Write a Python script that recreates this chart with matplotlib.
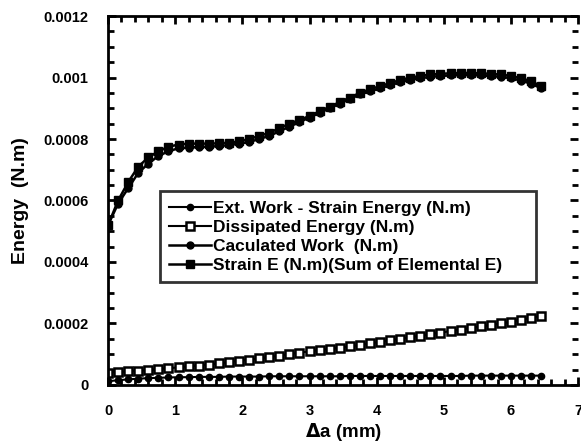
import matplotlib
matplotlib.use("Agg")
import matplotlib.pyplot as plt
from matplotlib.ticker import MultipleLocator

plt.rcParams['font.family'] = ['Liberation Sans', 'DejaVu Sans']
plt.rcParams['font.weight'] = 'bold'

# crack extension (mm)
delta_a = [0, 0.15, 0.3, 0.45, 0.6, 0.75, 0.9, 1.05, 1.2, 1.35, 1.5, 1.65, 1.8, 1.95,
           2.1, 2.25, 2.4, 2.55, 2.7, 2.85, 3.0, 3.15, 3.3, 3.45, 3.6, 3.75, 3.9, 4.05,
           4.2, 4.35, 4.5, 4.65, 4.8, 4.95, 5.1, 5.25, 5.4, 5.55, 5.7, 5.85, 6.0, 6.15,
           6.3, 6.45]

# energies in units of 1e-4 N.m
ext_minus_strain = [0.12, 0.15, 0.18, 0.2, 0.22, 0.23, 0.24, 0.25, 0.25, 0.26, 0.26, 0.26,
                    0.27, 0.27, 0.27, 0.27, 0.28, 0.28, 0.28, 0.28, 0.28, 0.28, 0.28, 0.28,
                    0.29, 0.29, 0.29, 0.29, 0.29, 0.29, 0.29, 0.29, 0.29, 0.29, 0.29, 0.29,
                    0.3, 0.3, 0.3, 0.3, 0.3, 0.3, 0.3, 0.3]
dissipated = [0.40, 0.42, 0.44, 0.46, 0.48, 0.51, 0.54, 0.57, 0.60, 0.63, 0.66, 0.70, 0.74,
              0.78, 0.82, 0.86, 0.90, 0.95, 1.0, 1.05, 1.09, 1.13, 1.17, 1.21, 1.25, 1.30,
              1.35, 1.40, 1.45, 1.50, 1.55, 1.60, 1.65, 1.70, 1.75, 1.80, 1.85, 1.90, 1.95,
              2.0, 2.05, 2.12, 2.18, 2.25]
calc_work = [5.2, 5.9, 6.4, 6.9, 7.2, 7.45, 7.6, 7.7, 7.72, 7.74, 7.75, 7.77, 7.8, 7.85,
             7.9, 8.0, 8.1, 8.25, 8.4, 8.55, 8.7, 8.85, 9.0, 9.15, 9.3, 9.45, 9.55, 9.65,
             9.75, 9.85, 9.92, 9.98, 10.02, 10.05, 10.07, 10.08, 10.08, 10.07, 10.05, 10.02,
             9.98, 9.9, 9.8, 9.65]
strain_sum = [5.2, 6.0, 6.6, 7.1, 7.4, 7.6, 7.75, 7.82, 7.85, 7.85, 7.85, 7.86, 7.88, 7.92,
              8.0, 8.1, 8.2, 8.35, 8.5, 8.62, 8.75, 8.9, 9.05, 9.2, 9.35, 9.5, 9.62, 9.72,
              9.82, 9.92, 10.0, 10.05, 10.1, 10.12, 10.14, 10.15, 10.15, 10.14, 10.12, 10.1,
              10.05, 9.98, 9.88, 9.72]

labels = ["Ext. Work - Strain Energy (N.m)", "Dissipated Energy (N.m)",
          "Caculated Work  (N.m)", "Strain E (N.m)(Sum of Elemental E)"]
ytick_vals = [0, 0.0002, 0.0004, 0.0006, 0.0008, 0.001, 0.0012]
ytick_text = ['0', '0.0002', '0.0004', '0.0006', '0.0008', '0.001', '0.0012']

def scale(v):
    return [i * 1e-4 for i in v]

fig = plt.figure(figsize=(5.81, 4.47), dpi=100)
ax = fig.add_axes([0.186, 0.139, 0.809, 0.825])

ax.plot(delta_a, scale(ext_minus_strain), color='black', lw=1.5, marker='o', ms=4.5, label=labels[0])
ax.plot(delta_a, scale(dissipated), color='black', lw=1.5, marker='s', ms=6,
        markerfacecolor='white', markeredgewidth=1.8, label=labels[1])
ax.plot(delta_a, scale(calc_work), color='black', lw=1.8, marker='o', ms=5, label=labels[2])
ax.plot(delta_a, scale(strain_sum), color='black', lw=1.8, marker='s', ms=6, label=labels[3])

ax.set_xlim(0, 7)
ax.set_ylim(0, 0.0012)
ax.xaxis.set_major_locator(MultipleLocator(1))
ax.xaxis.set_minor_locator(MultipleLocator(0.2))
ax.set_yticks(ytick_vals)
ax.set_yticklabels(ytick_text)
ax.yaxis.set_minor_locator(MultipleLocator(0.00005))

ax.tick_params(which='both', direction='in', top=True, right=True, width=2)
ax.tick_params(axis='y', labelsize=10.5, pad=14)
ax.tick_params(axis='x', labelsize=10.5, pad=14)
ax.tick_params(which='major', length=6)
ax.tick_params(which='minor', length=4)
for s in ['left', 'bottom', 'top']:
    ax.spines[s].set_linewidth(2)
ax.spines['right'].set_visible(False)

ax.set_xlabel(r'$\Delta$a (mm)', fontsize=13.5, fontweight='bold', labelpad=2)
ax.set_ylabel('Energy  (N.m)', fontsize=14, fontweight='bold', labelpad=10)

leg = ax.legend(loc='upper left', bbox_to_anchor=(0.11, 0.252, 0.80, 0.273), mode='expand',
                fontsize=12.5, frameon=True, fancybox=False, edgecolor='black',
                handlelength=2.4, handletextpad=0.1, labelspacing=0.22, borderpad=0.55,
                borderaxespad=0)
leg.get_frame().set_linewidth(2)
for t in leg.get_texts():
    t.set_fontweight('bold')

fig.savefig('out.png', dpi=100)
